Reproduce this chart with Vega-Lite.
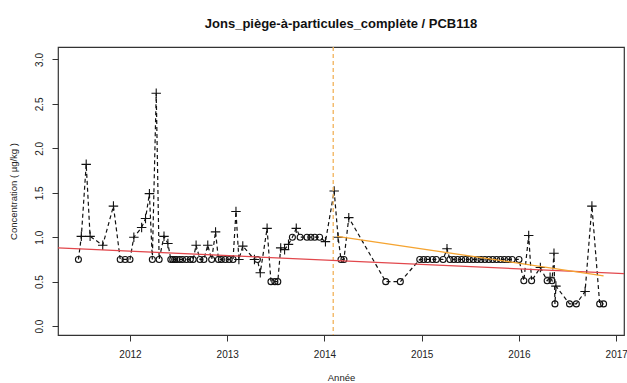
{
  "$schema": "https://vega.github.io/schema/vega-lite/v6.json",
  "width": 566,
  "height": 288,
  "autosize": {"type": "none"},
  "padding": {"left": 58, "top": 47, "right": 3, "bottom": 48},
  "background": "white",
  "config": {
    "font": "Liberation Sans",
    "view": {"stroke": "#333333", "strokeWidth": 1.2},
    "axis": {"grid": false, "domain": false, "tickColor": "#333333", "tickSize": 6, "labelFont": "Liberation Sans", "titleFont": "Liberation Sans", "labelFontSize": 10, "titleFontSize": 9.5, "titleFontWeight": "normal", "labelColor": "#222222", "titleColor": "#222222"}
  },
  "title": {"text": "Jons_piège-à-particules_complète / PCB118", "fontSize": 13, "fontWeight": "bold", "font": "Liberation Sans", "anchor": "middle", "offset": 15, "color": "#111111"},
  "datasets": {
    "obs": [
      {"t": 2011.47, "v": 0.75, "q": "o"},
      {"t": 2011.50, "v": 1.01, "q": "+"},
      {"t": 2011.55, "v": 1.82, "q": "+"},
      {"t": 2011.59, "v": 1.01, "q": "+"},
      {"t": 2011.72, "v": 0.91, "q": "+"},
      {"t": 2011.83, "v": 1.35, "q": "+"},
      {"t": 2011.90, "v": 0.75, "q": "o"},
      {"t": 2011.95, "v": 0.75, "q": "o"},
      {"t": 2012.00, "v": 0.75, "q": "o"},
      {"t": 2012.04, "v": 1.00, "q": "+"},
      {"t": 2012.12, "v": 1.11, "q": "+"},
      {"t": 2012.16, "v": 1.21, "q": "+"},
      {"t": 2012.20, "v": 1.49, "q": "+"},
      {"t": 2012.23, "v": 0.75, "q": "o"},
      {"t": 2012.27, "v": 2.62, "q": "+"},
      {"t": 2012.30, "v": 0.75, "q": "o"},
      {"t": 2012.35, "v": 1.01, "q": "+"},
      {"t": 2012.39, "v": 0.93, "q": "+"},
      {"t": 2012.42, "v": 0.75, "q": "o"},
      {"t": 2012.44, "v": 0.75, "q": "o"},
      {"t": 2012.46, "v": 0.75, "q": "o"},
      {"t": 2012.48, "v": 0.75, "q": "o"},
      {"t": 2012.51, "v": 0.75, "q": "o"},
      {"t": 2012.54, "v": 0.75, "q": "o"},
      {"t": 2012.58, "v": 0.75, "q": "o"},
      {"t": 2012.62, "v": 0.75, "q": "o"},
      {"t": 2012.65, "v": 0.75, "q": "o"},
      {"t": 2012.68, "v": 0.91, "q": "+"},
      {"t": 2012.72, "v": 0.75, "q": "o"},
      {"t": 2012.76, "v": 0.75, "q": "o"},
      {"t": 2012.80, "v": 0.91, "q": "+"},
      {"t": 2012.84, "v": 0.75, "q": "o"},
      {"t": 2012.88, "v": 1.06, "q": "+"},
      {"t": 2012.91, "v": 0.75, "q": "o"},
      {"t": 2012.94, "v": 0.75, "q": "o"},
      {"t": 2012.98, "v": 0.75, "q": "o"},
      {"t": 2013.02, "v": 0.75, "q": "o"},
      {"t": 2013.06, "v": 0.75, "q": "o"},
      {"t": 2013.09, "v": 1.29, "q": "+"},
      {"t": 2013.12, "v": 0.75, "q": "+"},
      {"t": 2013.16, "v": 0.90, "q": "+"},
      {"t": 2013.28, "v": 0.75, "q": "+"},
      {"t": 2013.31, "v": 0.75, "q": "o"},
      {"t": 2013.34, "v": 0.60, "q": "+"},
      {"t": 2013.41, "v": 1.10, "q": "+"},
      {"t": 2013.45, "v": 0.50, "q": "o"},
      {"t": 2013.49, "v": 0.50, "q": "o"},
      {"t": 2013.52, "v": 0.50, "q": "o"},
      {"t": 2013.55, "v": 0.88, "q": "+"},
      {"t": 2013.59, "v": 0.86, "q": "+"},
      {"t": 2013.63, "v": 0.92, "q": "+"},
      {"t": 2013.67, "v": 1.00, "q": "o"},
      {"t": 2013.71, "v": 1.10, "q": "+"},
      {"t": 2013.75, "v": 1.00, "q": "o"},
      {"t": 2013.82, "v": 1.00, "q": "o"},
      {"t": 2013.86, "v": 1.00, "q": "o"},
      {"t": 2013.90, "v": 1.00, "q": "o"},
      {"t": 2013.95, "v": 1.00, "q": "o"},
      {"t": 2014.01, "v": 0.95, "q": "+"},
      {"t": 2014.10, "v": 1.52, "q": "+"},
      {"t": 2014.14, "v": 1.00, "q": "+"},
      {"t": 2014.17, "v": 0.75, "q": "o"},
      {"t": 2014.20, "v": 0.75, "q": "o"},
      {"t": 2014.25, "v": 1.22, "q": "+"},
      {"t": 2014.63, "v": 0.50, "q": "o"},
      {"t": 2014.78, "v": 0.50, "q": "o"},
      {"t": 2014.98, "v": 0.75, "q": "o"},
      {"t": 2015.02, "v": 0.75, "q": "o"},
      {"t": 2015.06, "v": 0.75, "q": "o"},
      {"t": 2015.11, "v": 0.75, "q": "o"},
      {"t": 2015.15, "v": 0.75, "q": "o"},
      {"t": 2015.22, "v": 0.75, "q": "o"},
      {"t": 2015.26, "v": 0.87, "q": "+"},
      {"t": 2015.29, "v": 0.75, "q": "o"},
      {"t": 2015.33, "v": 0.75, "q": "o"},
      {"t": 2015.37, "v": 0.75, "q": "o"},
      {"t": 2015.41, "v": 0.75, "q": "o"},
      {"t": 2015.45, "v": 0.75, "q": "o"},
      {"t": 2015.49, "v": 0.75, "q": "o"},
      {"t": 2015.53, "v": 0.75, "q": "o"},
      {"t": 2015.57, "v": 0.75, "q": "o"},
      {"t": 2015.61, "v": 0.75, "q": "o"},
      {"t": 2015.65, "v": 0.75, "q": "o"},
      {"t": 2015.69, "v": 0.75, "q": "o"},
      {"t": 2015.73, "v": 0.75, "q": "o"},
      {"t": 2015.77, "v": 0.75, "q": "o"},
      {"t": 2015.81, "v": 0.75, "q": "o"},
      {"t": 2015.85, "v": 0.75, "q": "o"},
      {"t": 2015.89, "v": 0.75, "q": "o"},
      {"t": 2015.93, "v": 0.75, "q": "o"},
      {"t": 2016.00, "v": 0.75, "q": "o"},
      {"t": 2016.05, "v": 0.51, "q": "o"},
      {"t": 2016.10, "v": 1.02, "q": "+"},
      {"t": 2016.13, "v": 0.51, "q": "o"},
      {"t": 2016.22, "v": 0.66, "q": "+"},
      {"t": 2016.29, "v": 0.51, "q": "o"},
      {"t": 2016.32, "v": 0.55, "q": "+"},
      {"t": 2016.34, "v": 0.51, "q": "o"},
      {"t": 2016.36, "v": 0.82, "q": "+"},
      {"t": 2016.37, "v": 0.25, "q": "o"},
      {"t": 2016.38, "v": 0.45, "q": "+"},
      {"t": 2016.52, "v": 0.25, "q": "o"},
      {"t": 2016.59, "v": 0.25, "q": "o"},
      {"t": 2016.68, "v": 0.39, "q": "+"},
      {"t": 2016.75, "v": 1.35, "q": "+"},
      {"t": 2016.83, "v": 0.25, "q": "o"},
      {"t": 2016.87, "v": 0.25, "q": "o"}
    ],
    "red": [
      {"t": 2011.2, "v": 0.883},
      {"t": 2017.2, "v": 0.585}
    ],
    "orange": [
      {"t": 2014.13, "v": 1.01},
      {"t": 2016.87, "v": 0.566}
    ],
    "cut": [
      {"t": 2014.09}
    ]
  },
  "layer": [
    {
      "data": {"name": "obs"},
      "mark": {"type": "line", "color": "#111111", "strokeWidth": 1.2, "strokeDash": [4, 3], "clip": true},
      "encoding": {
        "x": {"field": "t", "type": "quantitative", "scale": {"domain": [2011.26, 2017.08], "nice": false, "zero": false},
              "axis": {"title": "Année", "values": [2012, 2013, 2014, 2015, 2016, 2017], "format": "d", "labelPadding": 8, "titlePadding": 13}},
        "y": {"field": "v", "type": "quantitative", "scale": {"domain": [-0.1, 3.14], "nice": false, "zero": false},
              "axis": {"title": "Concentration ( µg/kg )", "values": [0, 0.5, 1, 1.5, 2, 2.5, 3], "format": ".1f", "labelAngle": 270, "labelAlign": "center", "labelBaseline": "bottom", "labelPadding": 8, "titlePadding": 16}},
        "order": {"field": "t", "type": "quantitative"}
      }
    },
    {
      "data": {"name": "obs"},
      "mark": {"type": "point", "filled": false, "color": "#111111", "strokeWidth": 1.1, "opacity": 1},
      "encoding": {
        "x": {"field": "t", "type": "quantitative"},
        "y": {"field": "v", "type": "quantitative"},
        "shape": {"field": "q", "type": "nominal", "scale": {"domain": ["o", "+"], "range": ["circle", "M-1,0L1,0M0,-1L0,1"]}, "legend": null},
        "size": {"field": "q", "type": "nominal", "scale": {"domain": ["o", "+"], "range": [36, 90]}, "legend": null}
      }
    },
    {
      "data": {"name": "cut"},
      "mark": {"type": "rule", "color": "#f2b25a", "strokeWidth": 1.3, "strokeDash": [4, 3]},
      "encoding": {"x": {"field": "t", "type": "quantitative"}}
    },
    {
      "data": {"name": "red"},
      "mark": {"type": "line", "color": "#e2474c", "strokeWidth": 1.3, "clip": true},
      "encoding": {"x": {"field": "t", "type": "quantitative"}, "y": {"field": "v", "type": "quantitative"}}
    },
    {
      "data": {"name": "orange"},
      "mark": {"type": "line", "color": "#f5a431", "strokeWidth": 1.3, "clip": true},
      "encoding": {"x": {"field": "t", "type": "quantitative"}, "y": {"field": "v", "type": "quantitative"}}
    }
  ]
}
